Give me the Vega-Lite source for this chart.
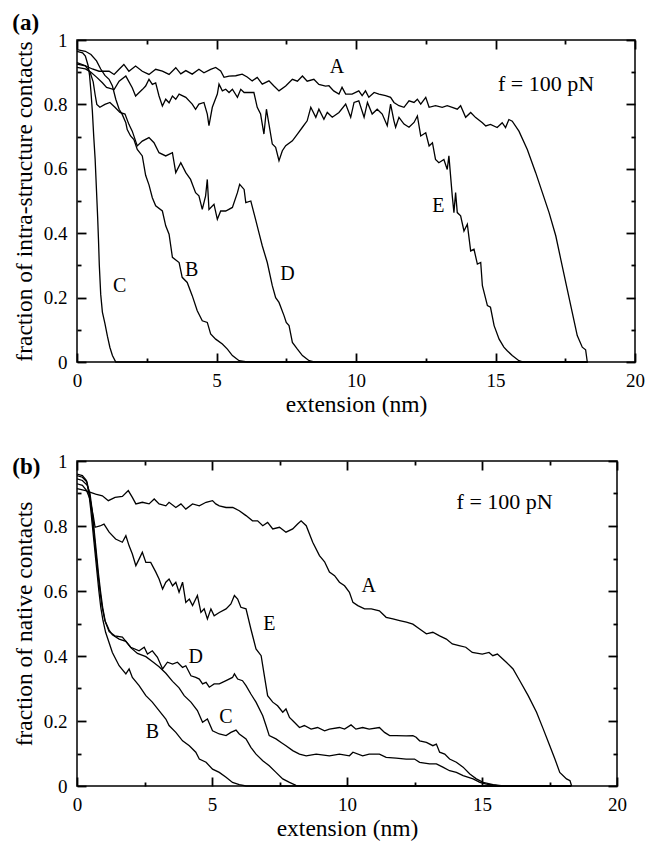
{
  "$schema": "https://vega.github.io/schema/vega-lite/v6.json",
  "padding": {"left": 11, "top": 11, "right": 5, "bottom": 0},
  "spacing": 34,
  "config": {
    "view": {"stroke": "black", "strokeWidth": 1.5},
    "font": "Liberation Serif",
    "axis": {"domain": false, "grid": false, "ticks": true, "zindex": 1, "labelFont": "Liberation Serif", "labelFontSize": 19, "labelColor": "black", "titleFont": "Liberation Serif", "titleFontSize": 23.5, "titleFontWeight": "normal", "titleColor": "black", "tickColor": "black", "tickWidth": 1.8, "tickOpacity": 1, "labelFlush": false, "labelOverlap": false, "labelBound": false},
    "title": {"font": "Liberation Serif", "fontSize": 23, "fontWeight": "bold", "color": "black", "anchor": "start", "frame": "bounds"},
    "text": {"font": "Liberation Serif", "color": "black"}
  },
  "datasets": {
    "a": [
      {"s":"A","x":0,"y":0.925},{"s":"A","x":0.3,"y":0.92},{"s":"A","x":0.55,"y":0.91},{"s":"A","x":0.79,"y":0.903},{"s":"A","x":1.15,"y":0.903},{"s":"A","x":1.33,"y":0.893},{"s":"A","x":1.51,"y":0.909},{"s":"A","x":1.68,"y":0.924},{"s":"A","x":1.86,"y":0.903},{"s":"A","x":2.1,"y":0.919},{"s":"A","x":2.34,"y":0.903},{"s":"A","x":2.58,"y":0.893},{"s":"A","x":2.82,"y":0.909},{"s":"A","x":3.06,"y":0.903},{"s":"A","x":3.3,"y":0.893},{"s":"A","x":3.54,"y":0.914},{"s":"A","x":3.72,"y":0.895},{"s":"A","x":3.9,"y":0.905},{"s":"A","x":4.13,"y":0.894},{"s":"A","x":4.37,"y":0.909},{"s":"A","x":4.55,"y":0.898},{"s":"A","x":4.79,"y":0.909},{"s":"A","x":4.97,"y":0.915},{"s":"A","x":5.15,"y":0.904},{"s":"A","x":5.27,"y":0.884},{"s":"A","x":5.45,"y":0.888},{"s":"A","x":5.69,"y":0.889},{"s":"A","x":5.92,"y":0.894},{"s":"A","x":6.1,"y":0.885},{"s":"A","x":6.28,"y":0.873},{"s":"A","x":6.46,"y":0.884},{"s":"A","x":6.64,"y":0.863},{"s":"A","x":6.88,"y":0.873},{"s":"A","x":7.05,"y":0.858},{"s":"A","x":7.24,"y":0.842},{"s":"A","x":7.48,"y":0.857},{"s":"A","x":7.72,"y":0.878},{"s":"A","x":7.9,"y":0.872},{"s":"A","x":8.08,"y":0.888},{"s":"A","x":8.25,"y":0.872},{"s":"A","x":8.49,"y":0.878},{"s":"A","x":8.67,"y":0.862},{"s":"A","x":8.91,"y":0.857},{"s":"A","x":9.03,"y":0.858},{"s":"A","x":9.2,"y":0.842},{"s":"A","x":9.39,"y":0.832},{"s":"A","x":9.5,"y":0.853},{"s":"A","x":9.63,"y":0.832},{"s":"A","x":9.86,"y":0.832},{"s":"A","x":10.1,"y":0.842},{"s":"A","x":10.22,"y":0.827},{"s":"A","x":10.34,"y":0.842},{"s":"A","x":10.46,"y":0.822},{"s":"A","x":10.65,"y":0.837},{"s":"A","x":10.82,"y":0.832},{"s":"A","x":11.06,"y":0.827},{"s":"A","x":11.24,"y":0.822},{"s":"A","x":11.36,"y":0.806},{"s":"A","x":11.54,"y":0.796},{"s":"A","x":11.72,"y":0.791},{"s":"A","x":11.9,"y":0.811},{"s":"A","x":12.08,"y":0.806},{"s":"A","x":12.2,"y":0.816},{"s":"A","x":12.32,"y":0.801},{"s":"A","x":12.5,"y":0.822},{"s":"A","x":12.62,"y":0.791},{"s":"A","x":12.85,"y":0.796},{"s":"A","x":13.09,"y":0.791},{"s":"A","x":13.27,"y":0.796},{"s":"A","x":13.45,"y":0.791},{"s":"A","x":13.63,"y":0.785},{"s":"A","x":13.75,"y":0.796},{"s":"A","x":13.93,"y":0.76},{"s":"A","x":14.11,"y":0.775},{"s":"A","x":14.29,"y":0.759},{"s":"A","x":14.53,"y":0.743},{"s":"A","x":14.65,"y":0.733},{"s":"A","x":14.82,"y":0.738},{"s":"A","x":15.06,"y":0.728},{"s":"A","x":15.24,"y":0.743},{"s":"A","x":15.36,"y":0.728},{"s":"A","x":15.48,"y":0.753},{"s":"A","x":15.6,"y":0.748},{"s":"A","x":15.84,"y":0.717},{"s":"A","x":16.14,"y":0.66},{"s":"A","x":16.44,"y":0.588},{"s":"A","x":16.68,"y":0.526},{"s":"A","x":16.92,"y":0.464},{"s":"A","x":17.16,"y":0.392},{"s":"A","x":17.34,"y":0.319},{"s":"A","x":17.57,"y":0.226},{"s":"A","x":17.75,"y":0.154},{"s":"A","x":17.93,"y":0.082},{"s":"A","x":18.11,"y":0.046},{"s":"A","x":18.23,"y":0.038},{"s":"A","x":18.29,"y":0},
      {"s":"B","x":0,"y":0.97},{"s":"B","x":0.3,"y":0.965},{"s":"B","x":0.5,"y":0.955},{"s":"B","x":0.7,"y":0.935},{"s":"B","x":0.85,"y":0.91},{"s":"B","x":1.0,"y":0.89},{"s":"B","x":1.15,"y":0.878},{"s":"B","x":1.27,"y":0.857},{"s":"B","x":1.39,"y":0.816},{"s":"B","x":1.51,"y":0.785},{"s":"B","x":1.62,"y":0.769},{"s":"B","x":1.75,"y":0.743},{"s":"B","x":1.8,"y":0.722},{"s":"B","x":1.92,"y":0.702},{"s":"B","x":2.04,"y":0.691},{"s":"B","x":2.16,"y":0.66},{"s":"B","x":2.34,"y":0.64},{"s":"B","x":2.46,"y":0.58},{"s":"B","x":2.58,"y":0.55},{"s":"B","x":2.7,"y":0.51},{"s":"B","x":2.82,"y":0.485},{"s":"B","x":3.06,"y":0.469},{"s":"B","x":3.18,"y":0.423},{"s":"B","x":3.3,"y":0.397},{"s":"B","x":3.42,"y":0.325},{"s":"B","x":3.66,"y":0.309},{"s":"B","x":3.77,"y":0.263},{"s":"B","x":3.95,"y":0.247},{"s":"B","x":4.13,"y":0.206},{"s":"B","x":4.31,"y":0.159},{"s":"B","x":4.49,"y":0.128},{"s":"B","x":4.67,"y":0.123},{"s":"B","x":4.79,"y":0.087},{"s":"B","x":4.97,"y":0.071},{"s":"B","x":5.21,"y":0.056},{"s":"B","x":5.39,"y":0.04},{"s":"B","x":5.57,"y":0.02},{"s":"B","x":5.81,"y":0.004},{"s":"B","x":6.1,"y":0},{"s":"B","x":18.3,"y":0},
      {"s":"C","x":0,"y":0.965},{"s":"C","x":0.2,"y":0.96},{"s":"C","x":0.3,"y":0.95},{"s":"C","x":0.4,"y":0.92},{"s":"C","x":0.45,"y":0.89},{"s":"C","x":0.5,"y":0.84},{"s":"C","x":0.55,"y":0.78},{"s":"C","x":0.6,"y":0.7},{"s":"C","x":0.65,"y":0.63},{"s":"C","x":0.7,"y":0.53},{"s":"C","x":0.74,"y":0.45},{"s":"C","x":0.77,"y":0.38},{"s":"C","x":0.8,"y":0.3},{"s":"C","x":0.85,"y":0.21},{"s":"C","x":0.91,"y":0.155},{"s":"C","x":1.0,"y":0.12},{"s":"C","x":1.09,"y":0.08},{"s":"C","x":1.18,"y":0.045},{"s":"C","x":1.27,"y":0.02},{"s":"C","x":1.39,"y":0},{"s":"C","x":18.3,"y":0},
      {"s":"D","x":0,"y":0.93},{"s":"D","x":0.3,"y":0.92},{"s":"D","x":0.47,"y":0.9},{"s":"D","x":0.58,"y":0.87},{"s":"D","x":0.65,"y":0.83},{"s":"D","x":0.71,"y":0.8},{"s":"D","x":0.82,"y":0.791},{"s":"D","x":1.0,"y":0.8},{"s":"D","x":1.18,"y":0.806},{"s":"D","x":1.36,"y":0.791},{"s":"D","x":1.54,"y":0.775},{"s":"D","x":1.72,"y":0.77},{"s":"D","x":1.86,"y":0.738},{"s":"D","x":1.98,"y":0.717},{"s":"D","x":2.16,"y":0.671},{"s":"D","x":2.34,"y":0.686},{"s":"D","x":2.58,"y":0.697},{"s":"D","x":2.76,"y":0.681},{"s":"D","x":2.94,"y":0.65},{"s":"D","x":3.18,"y":0.64},{"s":"D","x":3.42,"y":0.65},{"s":"D","x":3.54,"y":0.588},{"s":"D","x":3.72,"y":0.619},{"s":"D","x":3.9,"y":0.588},{"s":"D","x":4.07,"y":0.567},{"s":"D","x":4.25,"y":0.526},{"s":"D","x":4.37,"y":0.516},{"s":"D","x":4.49,"y":0.474},{"s":"D","x":4.61,"y":0.516},{"s":"D","x":4.67,"y":0.567},{"s":"D","x":4.73,"y":0.474},{"s":"D","x":4.91,"y":0.49},{"s":"D","x":5.03,"y":0.443},{"s":"D","x":5.15,"y":0.469},{"s":"D","x":5.33,"y":0.469},{"s":"D","x":5.57,"y":0.48},{"s":"D","x":5.75,"y":0.526},{"s":"D","x":5.83,"y":0.552},{"s":"D","x":5.99,"y":0.536},{"s":"D","x":6.05,"y":0.495},{"s":"D","x":6.23,"y":0.5},{"s":"D","x":6.4,"y":0.443},{"s":"D","x":6.52,"y":0.402},{"s":"D","x":6.64,"y":0.361},{"s":"D","x":6.82,"y":0.309},{"s":"D","x":7.0,"y":0.237},{"s":"D","x":7.12,"y":0.2},{"s":"D","x":7.24,"y":0.185},{"s":"D","x":7.42,"y":0.144},{"s":"D","x":7.5,"y":0.123},{"s":"D","x":7.6,"y":0.113},{"s":"D","x":7.72,"y":0.061},{"s":"D","x":7.9,"y":0.04},{"s":"D","x":8.08,"y":0.02},{"s":"D","x":8.32,"y":0.004},{"s":"D","x":8.5,"y":0},{"s":"D","x":18.3,"y":0},
      {"s":"E","x":0,"y":0.915},{"s":"E","x":0.3,"y":0.91},{"s":"E","x":0.5,"y":0.9},{"s":"E","x":0.71,"y":0.884},{"s":"E","x":0.91,"y":0.867},{"s":"E","x":1.06,"y":0.853},{"s":"E","x":1.33,"y":0.846},{"s":"E","x":1.51,"y":0.872},{"s":"E","x":1.75,"y":0.888},{"s":"E","x":1.98,"y":0.852},{"s":"E","x":2.1,"y":0.826},{"s":"E","x":2.22,"y":0.836},{"s":"E","x":2.34,"y":0.846},{"s":"E","x":2.46,"y":0.857},{"s":"E","x":2.58,"y":0.878},{"s":"E","x":2.7,"y":0.862},{"s":"E","x":2.82,"y":0.867},{"s":"E","x":2.94,"y":0.826},{"s":"E","x":3.06,"y":0.795},{"s":"E","x":3.18,"y":0.816},{"s":"E","x":3.3,"y":0.805},{"s":"E","x":3.42,"y":0.826},{"s":"E","x":3.54,"y":0.816},{"s":"E","x":3.66,"y":0.832},{"s":"E","x":3.9,"y":0.822},{"s":"E","x":4.13,"y":0.801},{"s":"E","x":4.25,"y":0.785},{"s":"E","x":4.37,"y":0.801},{"s":"E","x":4.55,"y":0.806},{"s":"E","x":4.67,"y":0.77},{"s":"E","x":4.73,"y":0.734},{"s":"E","x":4.85,"y":0.791},{"s":"E","x":5.03,"y":0.832},{"s":"E","x":5.09,"y":0.863},{"s":"E","x":5.21,"y":0.842},{"s":"E","x":5.33,"y":0.847},{"s":"E","x":5.45,"y":0.837},{"s":"E","x":5.57,"y":0.847},{"s":"E","x":5.75,"y":0.822},{"s":"E","x":5.87,"y":0.847},{"s":"E","x":5.99,"y":0.837},{"s":"E","x":6.34,"y":0.837},{"s":"E","x":6.46,"y":0.791},{"s":"E","x":6.58,"y":0.77},{"s":"E","x":6.7,"y":0.708},{"s":"E","x":6.79,"y":0.785},{"s":"E","x":6.88,"y":0.739},{"s":"E","x":7.0,"y":0.677},{"s":"E","x":7.12,"y":0.667},{"s":"E","x":7.24,"y":0.625},{"s":"E","x":7.36,"y":0.656},{"s":"E","x":7.48,"y":0.672},{"s":"E","x":7.72,"y":0.687},{"s":"E","x":7.9,"y":0.708},{"s":"E","x":8.08,"y":0.729},{"s":"E","x":8.25,"y":0.749},{"s":"E","x":8.38,"y":0.791},{"s":"E","x":8.56,"y":0.76},{"s":"E","x":8.67,"y":0.785},{"s":"E","x":8.85,"y":0.754},{"s":"E","x":8.97,"y":0.775},{"s":"E","x":9.15,"y":0.76},{"s":"E","x":9.39,"y":0.775},{"s":"E","x":9.63,"y":0.801},{"s":"E","x":9.81,"y":0.76},{"s":"E","x":9.93,"y":0.806},{"s":"E","x":10.1,"y":0.811},{"s":"E","x":10.29,"y":0.76},{"s":"E","x":10.41,"y":0.806},{"s":"E","x":10.58,"y":0.77},{"s":"E","x":10.76,"y":0.785},{"s":"E","x":10.94,"y":0.77},{"s":"E","x":11.12,"y":0.734},{"s":"E","x":11.24,"y":0.801},{"s":"E","x":11.36,"y":0.749},{"s":"E","x":11.42,"y":0.729},{"s":"E","x":11.54,"y":0.76},{"s":"E","x":11.72,"y":0.739},{"s":"E","x":11.9,"y":0.729},{"s":"E","x":12.08,"y":0.744},{"s":"E","x":12.2,"y":0.764},{"s":"E","x":12.32,"y":0.702},{"s":"E","x":12.5,"y":0.712},{"s":"E","x":12.62,"y":0.671},{"s":"E","x":12.74,"y":0.681},{"s":"E","x":12.85,"y":0.629},{"s":"E","x":12.97,"y":0.619},{"s":"E","x":13.15,"y":0.629},{"s":"E","x":13.27,"y":0.598},{"s":"E","x":13.33,"y":0.64},{"s":"E","x":13.45,"y":0.516},{"s":"E","x":13.51,"y":0.464},{"s":"E","x":13.57,"y":0.526},{"s":"E","x":13.63,"y":0.464},{"s":"E","x":13.75,"y":0.454},{"s":"E","x":13.87,"y":0.407},{"s":"E","x":13.99,"y":0.428},{"s":"E","x":14.11,"y":0.345},{"s":"E","x":14.23,"y":0.35},{"s":"E","x":14.35,"y":0.304},{"s":"E","x":14.47,"y":0.309},{"s":"E","x":14.53,"y":0.237},{"s":"E","x":14.71,"y":0.175},{"s":"E","x":14.82,"y":0.17},{"s":"E","x":14.95,"y":0.113},{"s":"E","x":15.13,"y":0.071},{"s":"E","x":15.3,"y":0.046},{"s":"E","x":15.42,"y":0.035},{"s":"E","x":15.6,"y":0.02},{"s":"E","x":15.84,"y":0.004},{"s":"E","x":16.0,"y":0},{"s":"E","x":18.3,"y":0}
    ],
    "b": [
      {"s":"A","x":0,"y":0.915},{"s":"A","x":0.32,"y":0.909},{"s":"A","x":0.69,"y":0.898},{"s":"A","x":0.94,"y":0.893},{"s":"A","x":1.16,"y":0.878},{"s":"A","x":1.41,"y":0.888},{"s":"A","x":1.68,"y":0.891},{"s":"A","x":1.9,"y":0.909},{"s":"A","x":2.05,"y":0.888},{"s":"A","x":2.18,"y":0.868},{"s":"A","x":2.42,"y":0.873},{"s":"A","x":2.67,"y":0.868},{"s":"A","x":2.86,"y":0.883},{"s":"A","x":3.04,"y":0.868},{"s":"A","x":3.29,"y":0.862},{"s":"A","x":3.41,"y":0.873},{"s":"A","x":3.66,"y":0.857},{"s":"A","x":3.85,"y":0.868},{"s":"A","x":4.03,"y":0.852},{"s":"A","x":4.28,"y":0.868},{"s":"A","x":4.53,"y":0.862},{"s":"A","x":4.78,"y":0.873},{"s":"A","x":5.02,"y":0.878},{"s":"A","x":5.14,"y":0.868},{"s":"A","x":5.27,"y":0.862},{"s":"A","x":5.52,"y":0.857},{"s":"A","x":5.77,"y":0.857},{"s":"A","x":6.01,"y":0.847},{"s":"A","x":6.26,"y":0.832},{"s":"A","x":6.5,"y":0.816},{"s":"A","x":6.69,"y":0.816},{"s":"A","x":6.88,"y":0.801},{"s":"A","x":7.06,"y":0.811},{"s":"A","x":7.25,"y":0.791},{"s":"A","x":7.5,"y":0.796},{"s":"A","x":7.74,"y":0.781},{"s":"A","x":7.99,"y":0.791},{"s":"A","x":8.17,"y":0.806},{"s":"A","x":8.3,"y":0.816},{"s":"A","x":8.49,"y":0.801},{"s":"A","x":8.73,"y":0.75},{"s":"A","x":8.98,"y":0.709},{"s":"A","x":9.17,"y":0.69},{"s":"A","x":9.35,"y":0.658},{"s":"A","x":9.54,"y":0.647},{"s":"A","x":9.72,"y":0.627},{"s":"A","x":9.91,"y":0.616},{"s":"A","x":10.09,"y":0.596},{"s":"A","x":10.22,"y":0.565},{"s":"A","x":10.4,"y":0.555},{"s":"A","x":10.65,"y":0.545},{"s":"A","x":10.9,"y":0.545},{"s":"A","x":11.2,"y":0.539},{"s":"A","x":11.45,"y":0.519},{"s":"A","x":11.7,"y":0.514},{"s":"A","x":11.95,"y":0.509},{"s":"A","x":12.2,"y":0.504},{"s":"A","x":12.44,"y":0.498},{"s":"A","x":12.69,"y":0.483},{"s":"A","x":12.94,"y":0.468},{"s":"A","x":13.18,"y":0.473},{"s":"A","x":13.43,"y":0.462},{"s":"A","x":13.68,"y":0.452},{"s":"A","x":13.9,"y":0.437},{"s":"A","x":14.15,"y":0.432},{"s":"A","x":14.4,"y":0.427},{"s":"A","x":14.64,"y":0.411},{"s":"A","x":15.01,"y":0.406},{"s":"A","x":15.26,"y":0.411},{"s":"A","x":15.4,"y":0.401},{"s":"A","x":15.57,"y":0.406},{"s":"A","x":15.9,"y":0.381},{"s":"A","x":16.15,"y":0.36},{"s":"A","x":16.4,"y":0.324},{"s":"A","x":16.71,"y":0.278},{"s":"A","x":17.02,"y":0.227},{"s":"A","x":17.27,"y":0.175},{"s":"A","x":17.51,"y":0.124},{"s":"A","x":17.7,"y":0.083},{"s":"A","x":17.88,"y":0.042},{"s":"A","x":18.13,"y":0.022},{"s":"A","x":18.26,"y":0.016},{"s":"A","x":18.32,"y":0},
      {"s":"B","x":0,"y":0.96},{"s":"B","x":0.2,"y":0.955},{"s":"B","x":0.35,"y":0.94},{"s":"B","x":0.44,"y":0.9},{"s":"B","x":0.51,"y":0.85},{"s":"B","x":0.57,"y":0.8},{"s":"B","x":0.63,"y":0.75},{"s":"B","x":0.69,"y":0.7},{"s":"B","x":0.75,"y":0.65},{"s":"B","x":0.81,"y":0.6},{"s":"B","x":0.88,"y":0.55},{"s":"B","x":0.96,"y":0.51},{"s":"B","x":1.06,"y":0.473},{"s":"B","x":1.31,"y":0.411},{"s":"B","x":1.56,"y":0.37},{"s":"B","x":1.81,"y":0.345},{"s":"B","x":1.93,"y":0.36},{"s":"B","x":2.05,"y":0.334},{"s":"B","x":2.3,"y":0.309},{"s":"B","x":2.55,"y":0.278},{"s":"B","x":2.79,"y":0.258},{"s":"B","x":3.04,"y":0.232},{"s":"B","x":3.29,"y":0.206},{"s":"B","x":3.41,"y":0.186},{"s":"B","x":3.66,"y":0.165},{"s":"B","x":3.91,"y":0.139},{"s":"B","x":4.16,"y":0.124},{"s":"B","x":4.4,"y":0.104},{"s":"B","x":4.53,"y":0.083},{"s":"B","x":4.78,"y":0.073},{"s":"B","x":5.02,"y":0.052},{"s":"B","x":5.27,"y":0.042},{"s":"B","x":5.52,"y":0.027},{"s":"B","x":5.76,"y":0.011},{"s":"B","x":6.01,"y":0.004},{"s":"B","x":6.26,"y":0},{"s":"B","x":18.3,"y":0},
      {"s":"C","x":0,"y":0.955},{"s":"C","x":0.2,"y":0.95},{"s":"C","x":0.37,"y":0.935},{"s":"C","x":0.46,"y":0.9},{"s":"C","x":0.54,"y":0.85},{"s":"C","x":0.6,"y":0.8},{"s":"C","x":0.66,"y":0.75},{"s":"C","x":0.72,"y":0.7},{"s":"C","x":0.78,"y":0.65},{"s":"C","x":0.85,"y":0.6},{"s":"C","x":0.93,"y":0.55},{"s":"C","x":1.03,"y":0.51},{"s":"C","x":1.19,"y":0.48},{"s":"C","x":1.31,"y":0.465},{"s":"C","x":1.56,"y":0.452},{"s":"C","x":1.81,"y":0.445},{"s":"C","x":2.0,"y":0.425},{"s":"C","x":2.24,"y":0.408},{"s":"C","x":2.55,"y":0.398},{"s":"C","x":2.79,"y":0.383},{"s":"C","x":3.04,"y":0.367},{"s":"C","x":3.29,"y":0.347},{"s":"C","x":3.54,"y":0.322},{"s":"C","x":3.78,"y":0.302},{"s":"C","x":3.97,"y":0.278},{"s":"C","x":4.22,"y":0.258},{"s":"C","x":4.46,"y":0.232},{"s":"C","x":4.65,"y":0.196},{"s":"C","x":4.83,"y":0.206},{"s":"C","x":5.02,"y":0.17},{"s":"C","x":5.27,"y":0.16},{"s":"C","x":5.52,"y":0.155},{"s":"C","x":5.7,"y":0.165},{"s":"C","x":5.89,"y":0.172},{"s":"C","x":6.01,"y":0.16},{"s":"C","x":6.26,"y":0.145},{"s":"C","x":6.44,"y":0.119},{"s":"C","x":6.63,"y":0.098},{"s":"C","x":6.88,"y":0.078},{"s":"C","x":7.12,"y":0.062},{"s":"C","x":7.37,"y":0.042},{"s":"C","x":7.62,"y":0.022},{"s":"C","x":7.87,"y":0.011},{"s":"C","x":8.11,"y":0.002},{"s":"C","x":8.3,"y":0},{"s":"C","x":18.3,"y":0},
      {"s":"D","x":0,"y":0.945},{"s":"D","x":0.2,"y":0.94},{"s":"D","x":0.38,"y":0.925},{"s":"D","x":0.48,"y":0.9},{"s":"D","x":0.56,"y":0.85},{"s":"D","x":0.62,"y":0.8},{"s":"D","x":0.68,"y":0.75},{"s":"D","x":0.74,"y":0.7},{"s":"D","x":0.8,"y":0.65},{"s":"D","x":0.87,"y":0.6},{"s":"D","x":0.95,"y":0.55},{"s":"D","x":1.05,"y":0.505},{"s":"D","x":1.19,"y":0.475},{"s":"D","x":1.4,"y":0.462},{"s":"D","x":1.68,"y":0.458},{"s":"D","x":1.99,"y":0.427},{"s":"D","x":2.3,"y":0.416},{"s":"D","x":2.49,"y":0.427},{"s":"D","x":2.61,"y":0.406},{"s":"D","x":2.79,"y":0.416},{"s":"D","x":2.98,"y":0.396},{"s":"D","x":3.17,"y":0.36},{"s":"D","x":3.35,"y":0.381},{"s":"D","x":3.54,"y":0.375},{"s":"D","x":3.72,"y":0.381},{"s":"D","x":3.91,"y":0.365},{"s":"D","x":4.03,"y":0.37},{"s":"D","x":4.22,"y":0.339},{"s":"D","x":4.4,"y":0.334},{"s":"D","x":4.53,"y":0.329},{"s":"D","x":4.65,"y":0.314},{"s":"D","x":4.78,"y":0.319},{"s":"D","x":4.9,"y":0.304},{"s":"D","x":5.08,"y":0.314},{"s":"D","x":5.27,"y":0.314},{"s":"D","x":5.52,"y":0.324},{"s":"D","x":5.76,"y":0.334},{"s":"D","x":5.83,"y":0.345},{"s":"D","x":5.95,"y":0.329},{"s":"D","x":6.13,"y":0.324},{"s":"D","x":6.26,"y":0.309},{"s":"D","x":6.44,"y":0.283},{"s":"D","x":6.63,"y":0.258},{"s":"D","x":6.88,"y":0.216},{"s":"D","x":7.0,"y":0.186},{"s":"D","x":7.12,"y":0.155},{"s":"D","x":7.37,"y":0.145},{"s":"D","x":7.56,"y":0.134},{"s":"D","x":7.74,"y":0.124},{"s":"D","x":7.99,"y":0.109},{"s":"D","x":8.24,"y":0.098},{"s":"D","x":8.49,"y":0.093},{"s":"D","x":8.86,"y":0.098},{"s":"D","x":9.35,"y":0.093},{"s":"D","x":9.72,"y":0.098},{"s":"D","x":10.09,"y":0.093},{"s":"D","x":10.22,"y":0.104},{"s":"D","x":10.58,"y":0.093},{"s":"D","x":10.82,"y":0.098},{"s":"D","x":11.2,"y":0.098},{"s":"D","x":11.45,"y":0.088},{"s":"D","x":11.82,"y":0.086},{"s":"D","x":12.19,"y":0.083},{"s":"D","x":12.5,"y":0.083},{"s":"D","x":12.69,"y":0.073},{"s":"D","x":13.06,"y":0.068},{"s":"D","x":13.31,"y":0.068},{"s":"D","x":13.55,"y":0.058},{"s":"D","x":13.8,"y":0.047},{"s":"D","x":14.05,"y":0.042},{"s":"D","x":14.3,"y":0.032},{"s":"D","x":14.67,"y":0.022},{"s":"D","x":14.92,"y":0.011},{"s":"D","x":15.16,"y":0.006},{"s":"D","x":15.65,"y":0},{"s":"D","x":18.3,"y":0},
      {"s":"E","x":0,"y":0.93},{"s":"E","x":0.2,"y":0.925},{"s":"E","x":0.35,"y":0.91},{"s":"E","x":0.48,"y":0.883},{"s":"E","x":0.6,"y":0.832},{"s":"E","x":0.67,"y":0.796},{"s":"E","x":0.85,"y":0.8},{"s":"E","x":1.0,"y":0.806},{"s":"E","x":1.19,"y":0.781},{"s":"E","x":1.43,"y":0.76},{"s":"E","x":1.68,"y":0.75},{"s":"E","x":1.81,"y":0.77},{"s":"E","x":1.93,"y":0.739},{"s":"E","x":2.05,"y":0.714},{"s":"E","x":2.18,"y":0.678},{"s":"E","x":2.3,"y":0.698},{"s":"E","x":2.42,"y":0.719},{"s":"E","x":2.55,"y":0.688},{"s":"E","x":2.73,"y":0.688},{"s":"E","x":2.92,"y":0.658},{"s":"E","x":3.04,"y":0.637},{"s":"E","x":3.17,"y":0.606},{"s":"E","x":3.29,"y":0.627},{"s":"E","x":3.41,"y":0.637},{"s":"E","x":3.54,"y":0.616},{"s":"E","x":3.66,"y":0.627},{"s":"E","x":3.78,"y":0.596},{"s":"E","x":3.91,"y":0.627},{"s":"E","x":4.03,"y":0.565},{"s":"E","x":4.16,"y":0.575},{"s":"E","x":4.28,"y":0.555},{"s":"E","x":4.46,"y":0.586},{"s":"E","x":4.59,"y":0.534},{"s":"E","x":4.71,"y":0.545},{"s":"E","x":4.83,"y":0.514},{"s":"E","x":4.96,"y":0.545},{"s":"E","x":5.08,"y":0.524},{"s":"E","x":5.27,"y":0.534},{"s":"E","x":5.52,"y":0.545},{"s":"E","x":5.7,"y":0.56},{"s":"E","x":5.83,"y":0.586},{"s":"E","x":5.95,"y":0.575},{"s":"E","x":6.07,"y":0.55},{"s":"E","x":6.26,"y":0.545},{"s":"E","x":6.44,"y":0.483},{"s":"E","x":6.63,"y":0.422},{"s":"E","x":6.82,"y":0.401},{"s":"E","x":6.94,"y":0.339},{"s":"E","x":7.06,"y":0.278},{"s":"E","x":7.25,"y":0.258},{"s":"E","x":7.43,"y":0.247},{"s":"E","x":7.62,"y":0.227},{"s":"E","x":7.74,"y":0.237},{"s":"E","x":7.87,"y":0.211},{"s":"E","x":8.05,"y":0.196},{"s":"E","x":8.24,"y":0.18},{"s":"E","x":8.42,"y":0.186},{"s":"E","x":8.67,"y":0.175},{"s":"E","x":8.91,"y":0.18},{"s":"E","x":9.17,"y":0.17},{"s":"E","x":9.35,"y":0.175},{"s":"E","x":9.72,"y":0.18},{"s":"E","x":9.91,"y":0.175},{"s":"E","x":10.15,"y":0.188},{"s":"E","x":10.33,"y":0.175},{"s":"E","x":10.58,"y":0.18},{"s":"E","x":10.82,"y":0.175},{"s":"E","x":11.2,"y":0.18},{"s":"E","x":11.39,"y":0.165},{"s":"E","x":11.58,"y":0.155},{"s":"E","x":11.82,"y":0.155},{"s":"E","x":12.19,"y":0.154},{"s":"E","x":12.44,"y":0.155},{"s":"E","x":12.56,"y":0.15},{"s":"E","x":12.69,"y":0.139},{"s":"E","x":12.94,"y":0.134},{"s":"E","x":13.18,"y":0.124},{"s":"E","x":13.31,"y":0.129},{"s":"E","x":13.43,"y":0.104},{"s":"E","x":13.62,"y":0.098},{"s":"E","x":13.8,"y":0.083},{"s":"E","x":14.05,"y":0.073},{"s":"E","x":14.3,"y":0.058},{"s":"E","x":14.55,"y":0.037},{"s":"E","x":14.79,"y":0.022},{"s":"E","x":15.04,"y":0.011},{"s":"E","x":15.41,"y":0.004},{"s":"E","x":15.78,"y":0},{"s":"E","x":18.3,"y":0}
    ],
    "la": [{"t":"A","x":9.32,"y":0.915},{"t":"B","x":4.11,"y":0.286},{"t":"C","x":1.53,"y":0.237},{"t":"D","x":7.54,"y":0.273},{"t":"E","x":12.95,"y":0.485}],
    "lb": [{"t":"A","x":10.8,"y":0.616},{"t":"B","x":2.79,"y":0.165},{"t":"C","x":5.52,"y":0.211},{"t":"D","x":4.4,"y":0.396},{"t":"E","x":7.12,"y":0.498}],
    "fa": [{"t":"f = 100 pN","x":16.81,"y":0.862}],
    "fb": [{"t":"f = 100 pN","x":15.84,"y":0.873}]
  },
  "vconcat": [
    {
      "width": 558,
      "height": 322,
      "title": {"text": "(a)", "offset": -4},
      "layer": [
        {
          "data": {"name": "a"},
          "mark": {"type": "line", "color": "black", "strokeWidth": 1.3},
          "encoding": {
            "x": {"field": "x", "type": "quantitative", "scale": {"domain": [0, 20], "nice": false},
              "axis": {"orient": "bottom", "title": "extension (nm)", "values": [0,5,10,15,20], "offset": -9, "tickSize": 9, "labelPadding": 9, "titlePadding": 2}},
            "y": {"field": "y", "type": "quantitative", "scale": {"domain": [0, 1], "nice": false},
              "axis": {"orient": "left", "title": "fraction of intra-structure contacts", "values": [0,0.2,0.4,0.6,0.8,1], "format": ".1~f", "offset": -9, "tickSize": 9, "labelPadding": 10, "titlePadding": 7}},
            "detail": {"field": "s", "type": "nominal"}
          }
        },
        {
          "data": {"name": "a"},
          "mark": {"type": "line", "opacity": 0},
          "encoding": {
            "x": {"field": "x", "type": "quantitative", "axis": {"orient": "top", "title": null, "labels": false, "values": [0,5,10,15,20], "offset": -9, "tickSize": 9}},
            "y": {"field": "y", "type": "quantitative", "axis": {"orient": "right", "title": null, "labels": false, "values": [0,0.2,0.4,0.6,0.8,1], "offset": -9, "tickSize": 9}},
            "detail": {"field": "s", "type": "nominal"}
          }
        },
        {
          "data": {"name": "a"},
          "mark": {"type": "line", "opacity": 0},
          "encoding": {
            "x": {"field": "x", "type": "quantitative", "axis": {"orient": "bottom", "title": null, "labels": false, "values": [2.5,7.5,12.5,17.5], "offset": -4, "tickSize": 4}},
            "y": {"field": "y", "type": "quantitative", "axis": {"orient": "left", "title": null, "labels": false, "values": [0.1,0.3,0.5,0.7,0.9], "offset": -4, "tickSize": 4}},
            "detail": {"field": "s", "type": "nominal"}
          }
        },
        {
          "data": {"name": "a"},
          "mark": {"type": "line", "opacity": 0},
          "encoding": {
            "x": {"field": "x", "type": "quantitative", "axis": {"orient": "top", "title": null, "labels": false, "values": [2.5,7.5,12.5,17.5], "offset": -4, "tickSize": 4}},
            "y": {"field": "y", "type": "quantitative", "axis": {"orient": "right", "title": null, "labels": false, "values": [0.1,0.3,0.5,0.7,0.9], "offset": -4, "tickSize": 4}},
            "detail": {"field": "s", "type": "nominal"}
          }
        },
        {
          "data": {"name": "la"},
          "mark": {"type": "text", "fontSize": 20, "align": "center", "baseline": "middle"},
          "encoding": {"x": {"field": "x", "type": "quantitative", "axis": null}, "y": {"field": "y", "type": "quantitative", "axis": null}, "text": {"field": "t"}}
        },
        {
          "data": {"name": "fa"},
          "mark": {"type": "text", "fontSize": 22, "align": "center", "baseline": "middle"},
          "encoding": {"x": {"field": "x", "type": "quantitative", "axis": null}, "y": {"field": "y", "type": "quantitative", "axis": null}, "text": {"field": "t"}}
        }
      ]
    },
    {
      "width": 540,
      "height": 325,
      "title": {"text": "(b)", "offset": -4, "dy": 23},
      "layer": [
        {
          "data": {"name": "b"},
          "mark": {"type": "line", "color": "black", "strokeWidth": 1.3},
          "encoding": {
            "x": {"field": "x", "type": "quantitative", "scale": {"domain": [0, 20], "nice": false},
              "axis": {"orient": "bottom", "title": "extension (nm)", "values": [0,5,10,15,20], "offset": -9, "tickSize": 9, "labelPadding": 9, "titlePadding": 2}},
            "y": {"field": "y", "type": "quantitative", "scale": {"domain": [0, 1], "nice": false},
              "axis": {"orient": "left", "title": "fraction of native contacts", "values": [0,0.2,0.4,0.6,0.8,1], "format": ".1~f", "offset": -9, "tickSize": 9, "labelPadding": 10, "titlePadding": 7}},
            "detail": {"field": "s", "type": "nominal"}
          }
        },
        {
          "data": {"name": "b"},
          "mark": {"type": "line", "opacity": 0},
          "encoding": {
            "x": {"field": "x", "type": "quantitative", "axis": {"orient": "top", "title": null, "labels": false, "values": [0,5,10,15,20], "offset": -9, "tickSize": 9}},
            "y": {"field": "y", "type": "quantitative", "axis": {"orient": "right", "title": null, "labels": false, "values": [0,0.2,0.4,0.6,0.8,1], "offset": -9, "tickSize": 9}},
            "detail": {"field": "s", "type": "nominal"}
          }
        },
        {
          "data": {"name": "b"},
          "mark": {"type": "line", "opacity": 0},
          "encoding": {
            "x": {"field": "x", "type": "quantitative", "axis": {"orient": "bottom", "title": null, "labels": false, "values": [2.5,7.5,12.5,17.5], "offset": -4, "tickSize": 4}},
            "y": {"field": "y", "type": "quantitative", "axis": {"orient": "left", "title": null, "labels": false, "values": [0.1,0.3,0.5,0.7,0.9], "offset": -4, "tickSize": 4}},
            "detail": {"field": "s", "type": "nominal"}
          }
        },
        {
          "data": {"name": "b"},
          "mark": {"type": "line", "opacity": 0},
          "encoding": {
            "x": {"field": "x", "type": "quantitative", "axis": {"orient": "top", "title": null, "labels": false, "values": [2.5,7.5,12.5,17.5], "offset": -4, "tickSize": 4}},
            "y": {"field": "y", "type": "quantitative", "axis": {"orient": "right", "title": null, "labels": false, "values": [0.1,0.3,0.5,0.7,0.9], "offset": -4, "tickSize": 4}},
            "detail": {"field": "s", "type": "nominal"}
          }
        },
        {
          "data": {"name": "lb"},
          "mark": {"type": "text", "fontSize": 20, "align": "center", "baseline": "middle"},
          "encoding": {"x": {"field": "x", "type": "quantitative", "axis": null}, "y": {"field": "y", "type": "quantitative", "axis": null}, "text": {"field": "t"}}
        },
        {
          "data": {"name": "fb"},
          "mark": {"type": "text", "fontSize": 22, "align": "center", "baseline": "middle"},
          "encoding": {"x": {"field": "x", "type": "quantitative", "axis": null}, "y": {"field": "y", "type": "quantitative", "axis": null}, "text": {"field": "t"}}
        }
      ]
    }
  ]
}
